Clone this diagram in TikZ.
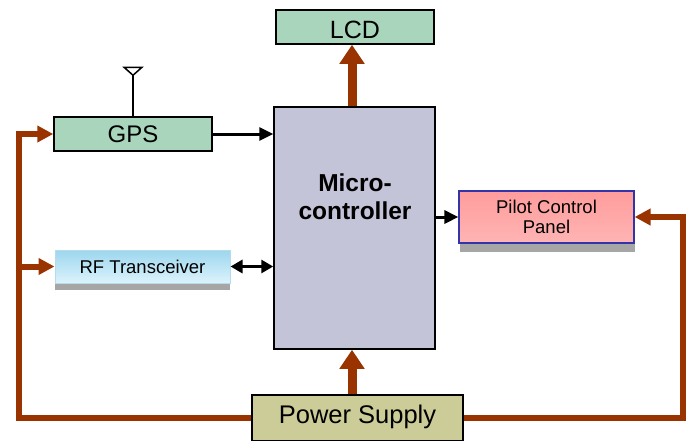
\documentclass[tikz,border=0pt]{standalone}
\usepackage{fontspec}
\setmainfont{Liberation Sans}
\usetikzlibrary{arrows.meta,calc,backgrounds}
\definecolor{pwr}{HTML}{993300}
\definecolor{grn}{HTML}{A8D5BB}
\definecolor{mic}{HTML}{C4C4D8}
\definecolor{psu}{HTML}{CCCC99}
\definecolor{shd}{HTML}{A6A6A6}
\definecolor{rftop}{HTML}{9CD6EE}
\definecolor{rfbot}{HTML}{DDF3FC}
\definecolor{rfedge}{HTML}{B4DCEA}
\definecolor{pktop}{HTML}{FF9C9C}
\definecolor{pkmid}{HTML}{FF8A8A}
\definecolor{pkbot}{HTML}{FFB4B4}
\definecolor{pkedge}{HTML}{3333AA}
\tikzset{
  greenbox/.style={draw=black, line width=1.5pt, fill=grn, inner sep=0pt},
  pwrline/.style={draw=pwr, line width=6pt},
  pwrarrow/.style={pwrline, -{Triangle[width=16pt,length=16pt]}},
  bigarrow/.style={draw=pwr, line width=9pt, -{Triangle[width=24pt,length=19pt]}},
  sig/.style={draw=black, line width=3pt, -{Triangle[width=13pt,length=14pt]}},
  sigboth/.style={draw=black, line width=3pt, {Triangle[width=13pt,length=12pt]}-{Triangle[width=13pt,length=12pt]}},
}
\begin{document}
\begin{tikzpicture}[x=1pt,y=-1pt]
\useasboundingbox (0,0) rectangle (698,440);
\coordinate (ax) at (352,0);
\coordinate (lx) at (18.5,0);
\coordinate (rx) at (683,0);

% shadows
\fill[shd] (55,257) rectangle (230,290);
\fill[shd] (460,200) rectangle (635,252);

% boxes
\node[greenbox, minimum width=158pt, minimum height=34pt] (lcd) at (355,27) {};
\node[font=\fontsize{25}{28}\selectfont, text depth=0pt] (lcdtxt) at (355,30) {LCD};
\node[greenbox, minimum width=158pt, minimum height=34pt, font=\fontsize{24}{27}\selectfont] (gps) at (133,134) {GPS};
\node[draw=black, line width=1.5pt, fill=mic, minimum width=161pt, minimum height=242pt, inner sep=0pt] (micro) at (354.5,228) {};
\node[font=\fontsize{24.5}{28.5}\selectfont\bfseries, align=center] (microtxt) at (355,196.5) {Micro-\\controller};
\node[draw=rfedge, line width=1pt, top color=rftop, bottom color=rfbot, minimum width=175pt, minimum height=33pt, inner sep=0pt, font=\fontsize{18.5}{21}\selectfont] (rf) at (142.5,266.5) {RF Transceiver};
\node[draw=pkedge, line width=1.2pt, top color=pktop, middle color=pkmid, bottom color=pkbot, minimum width=175pt, minimum height=52pt, inner sep=0pt, align=center, font=\fontsize{18.5}{20}\selectfont] (pilot) at (546.5,217) {Pilot Control\\Panel};
\node[draw=black, line width=2pt, fill=psu, minimum width=211pt, minimum height=46pt, inner sep=0pt] (power) at (357.5,418) {};
\node[font=\fontsize{25.5}{28}\selectfont, text depth=0pt] (powertxt) at (357.5,414) {Power Supply};

% antenna
\draw[line width=1.5pt] (gps.north) -- ++(0,-41) coordinate (anttop);
\draw[line width=1.5pt, fill=white] (anttop) -- ++(-9,-8) coordinate (antl) -- ++(18,0) coordinate (antr) -- cycle;

% power lines
\begin{scope}[on background layer]
\draw[pwrarrow] (power.west) -| (lx |- gps.west) -- (gps.west);
\draw[pwrarrow] (lx |- rf.west) -- (rf.west);
\draw[pwrarrow] (power.east) -| (rx |- pilot.east) -- (pilot.east);
\end{scope}

% vertical arrows
\draw[bigarrow] (ax |- power.north) -- (ax |- micro.south);
\draw[bigarrow] (ax |- micro.north) -- (ax |- lcd.south);

% signal arrows
\draw[sig] (gps.east) -- (gps.east -| micro.west);
\draw[sigboth] (rf.east) -- (rf.east -| micro.west);
\draw[sig] (pilot.west -| micro.east) -- (pilot.west);
\end{tikzpicture}
\end{document}
